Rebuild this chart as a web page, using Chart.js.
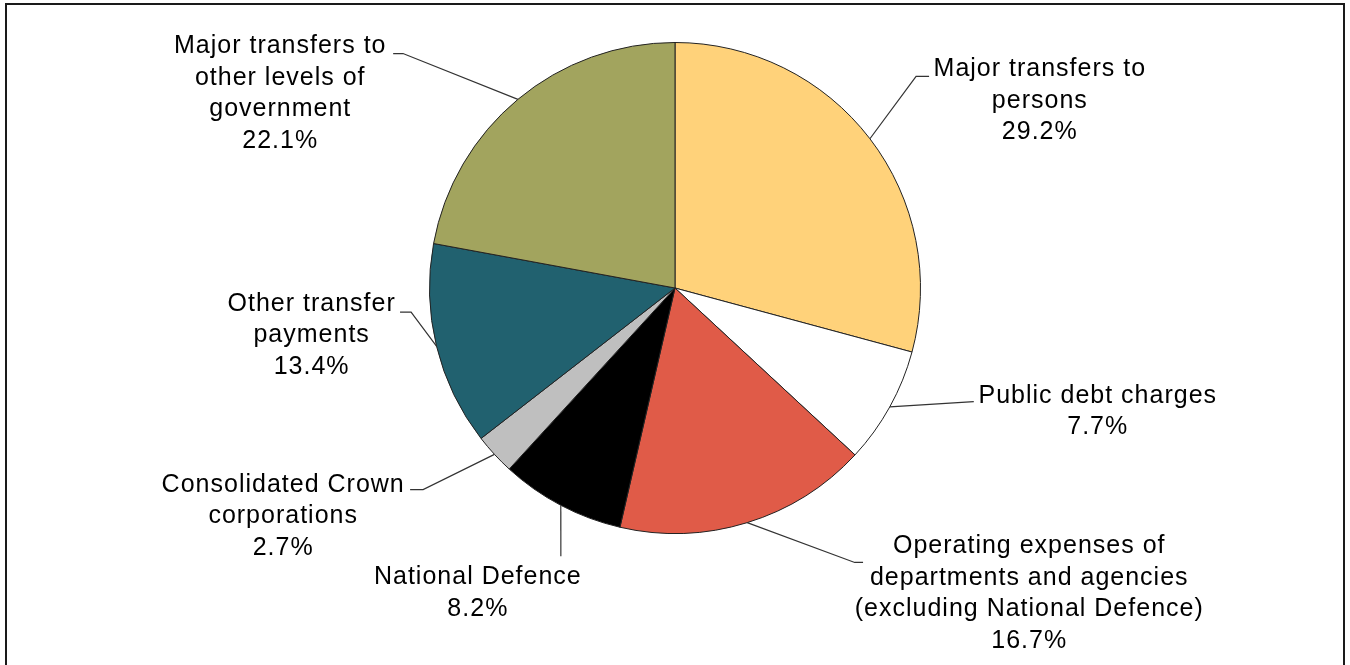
<!DOCTYPE html>
<html>
<head>
<meta charset="utf-8">
<script src="https://cdn.jsdelivr.net/npm/chart.js@4/dist/chart.umd.min.js"></script>
<style>
  html, body { margin: 0; padding: 0; background: #fff; overflow: hidden; }
  #wrap { position: relative; width: 1350px; height: 665px; }
  #frame {
    position: absolute; left: 5px; top: 3px; width: 1340px; height: 700px;
    border: 2px solid #1a1a1a; box-sizing: border-box; pointer-events: none;
  }
  canvas { position: absolute; left: 0; top: 0; }
</style>
</head>
<body>
<div id="wrap">
  <canvas id="pie" width="1350" height="665"></canvas>
  <div id="frame"></div>
</div>
<script>
// data
const categories = [
  ['Major transfers to', 'persons'],
  ['Public debt charges'],
  ['Operating expenses of', 'departments and agencies', '(excluding National Defence)'],
  ['National Defence'],
  ['Consolidated Crown', 'corporations'],
  ['Other transfer', 'payments'],
  ['Major transfers to', 'other levels of', 'government'],
];
const shares = [29.2, 7.7, 16.7, 8.2, 2.7, 13.4, 22.1];
const sliceColors = ['#FFD27A', '#FFFFFF', '#E05B48', '#000000', '#BFBFBF', '#21616F', '#A2A45E'];

// label placement, in units of the pie radius from its centre
// elbow: where the leader bends, end: where it stops, text: centre of first line
const labelLayout = [
  { elbow: [0.982, -0.862], end: [1.035, -0.862], text: [1.486, -0.890] },
  { elbow: null,            end: [1.217, 0.463],  text: [1.722, 0.439] },
  { elbow: [0.732, 1.118],  end: [0.766, 1.118],  text: [1.443, 1.053] },
  { elbow: null,            end: [-0.465, 1.093], text: [-0.803, 1.179] },
  { elbow: [-1.026, 0.821], end: [-1.079, 0.821], text: [-1.596, 0.801] },
  { elbow: [-1.075, 0.098], end: [-1.120, 0.098], text: [-1.480, 0.065] },
  { elbow: [-1.108, -0.955], end: [-1.148, -0.955], text: [-1.608, -0.985] },
];
const lineHeight = 31.5;

const leaderLabels = {
  id: 'leaderLabels',
  afterDraw(chart) {
    const ctx = chart.ctx;
    const arcs = chart.getDatasetMeta(0).data;
    ctx.save();
    arcs.forEach((arc, i) => {
      const p = arc.getProps(['x', 'y', 'startAngle', 'endAngle', 'outerRadius'], true);
      const R = p.outerRadius;
      const mid = (p.startAngle + p.endAngle) / 2;
      const ax = p.x + Math.cos(mid) * R;
      const ay = p.y + Math.sin(mid) * R;
      const lay = labelLayout[i];

      ctx.strokeStyle = '#333';
      ctx.lineWidth = 1.2;
      ctx.beginPath();
      ctx.moveTo(ax, ay);
      if (lay.elbow) ctx.lineTo(p.x + lay.elbow[0] * R, p.y + lay.elbow[1] * R);
      ctx.lineTo(p.x + lay.end[0] * R, p.y + lay.end[1] * R);
      ctx.stroke();

      const lines = categories[i].concat([shares[i].toFixed(1) + '%']);
      ctx.fillStyle = '#000';
      ctx.font = '25px "Liberation Sans", Arial, sans-serif';
      ctx.letterSpacing = '1px';
      ctx.textAlign = 'center';
      ctx.textBaseline = 'middle';
      const tx = p.x + lay.text[0] * R;
      const ty = p.y + lay.text[1] * R;
      lines.forEach((t, k) => ctx.fillText(t, tx, ty + k * lineHeight));
    });
    ctx.restore();
  }
};

new Chart(document.getElementById('pie').getContext('2d'), {
  type: 'pie',
  data: {
    labels: categories.map(c => c.join(' ')),
    datasets: [{
      data: shares,
      backgroundColor: sliceColors,
      borderColor: '#222',
      borderWidth: 1,
    }],
  },
  options: {
    responsive: false,
    animation: false,
    layout: { padding: { top: 42, bottom: 131, left: 0, right: 0 } },
    plugins: {
      legend: { display: false },
      tooltip: { enabled: false },
    },
  },
  plugins: [leaderLabels],
});
</script>
</body>
</html>
